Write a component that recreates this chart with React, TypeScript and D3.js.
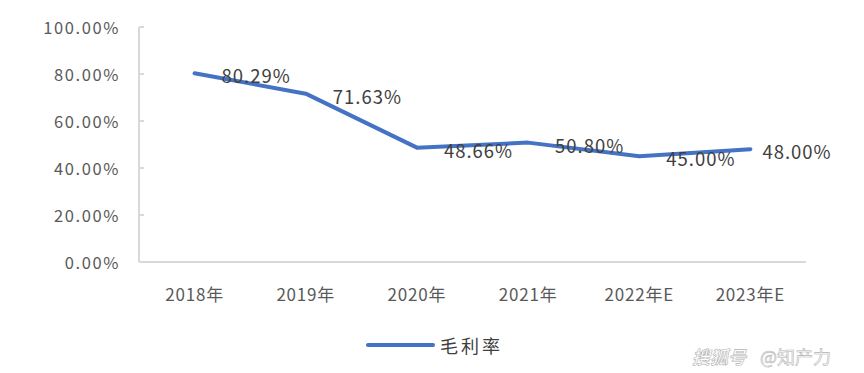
import { useEffect, useRef } from "react";
import * as d3 from "d3";

const years = ["2018年", "2019年", "2020年", "2021年", "2022年E", "2023年E"];
const grossMargin = [80.29, 71.63, 48.66, 50.8, 45.0, 48.0];
const yTicks = [0, 20, 40, 60, 80, 100];
const seriesName = "毛利率";

const WIDTH = 864;
const HEIGHT = 373;

export default function App() {
  const svgRef = useRef<SVGSVGElement | null>(null);

  useEffect(() => {
    if (!svgRef.current) return;
    const svg = d3.select(svgRef.current);
    svg.selectAll("*").remove();

    const left = 139;
    const right = 806;
    const top = 27;
    const bottom = 262;

    const x = d3.scaleBand<string>().domain(years).range([left, right]);
    const y = d3.scaleLinear().domain([0, 100]).range([bottom, top]);
    const cx = (d: string) => (x(d) ?? 0) + x.bandwidth() / 2;

    const axisColor = "#d9d9d9";

    // y axis line + inward ticks
    svg
      .append("line")
      .attr("x1", left)
      .attr("x2", left)
      .attr("y1", top)
      .attr("y2", bottom)
      .attr("stroke", axisColor)
      .attr("stroke-width", 2);

    svg
      .append("g")
      .selectAll("line")
      .data(yTicks)
      .join("line")
      .attr("x1", left)
      .attr("x2", left + 5)
      .attr("y1", (d) => y(d))
      .attr("y2", (d) => y(d))
      .attr("stroke", axisColor)
      .attr("stroke-width", 2);

    // x axis line
    svg
      .append("line")
      .attr("x1", left)
      .attr("x2", right)
      .attr("y1", bottom)
      .attr("y2", bottom)
      .attr("stroke", axisColor)
      .attr("stroke-width", 2);

    // y tick labels
    svg
      .append("g")
      .selectAll("text")
      .data(yTicks)
      .join("text")
      .attr("x", 120)
      .attr("y", (d) => y(d))
      .attr("text-anchor", "end")
      .attr("dominant-baseline", "central")
      .attr("font-family", "'Noto Sans CJK SC', 'Noto Sans', sans-serif")
      .attr("font-size", 16.5)
      .attr("letter-spacing", 1.6)
      .attr("fill", "#595959")
      .text((d) => `${d.toFixed(2)}%`);

    // x tick labels
    svg
      .append("g")
      .selectAll("text")
      .data(years)
      .join("text")
      .attr("x", (d) => cx(d))
      .attr("y", 293)
      .attr("text-anchor", "middle")
      .attr("dominant-baseline", "central")
      .attr("font-family", "'Noto Sans CJK SC', sans-serif")
      .attr("font-size", 17)
      .attr("letter-spacing", 0.8)
      .attr("fill", "#595959")
      .text((d) => d);

    const line = d3
      .line<number>()
      .x((_, i) => cx(years[i]))
      .y((d) => y(d));

    svg
      .append("path")
      .datum(grossMargin)
      .attr("d", line)
      .attr("fill", "none")
      .attr("stroke", "#4472c4")
      .attr("stroke-width", 4)
      .attr("stroke-linejoin", "round")
      .attr("stroke-linecap", "round");

    // data labels, right of each point
    svg
      .append("g")
      .selectAll("text")
      .data(grossMargin)
      .join("text")
      .attr("x", (_, i) => cx(years[i]) + (i === grossMargin.length - 1 ? 12 : 27))
      .attr("y", (d) => y(d) + 2)
      .attr("dominant-baseline", "central")
      .attr("font-family", "'Noto Sans CJK SC', 'Noto Sans', sans-serif")
      .attr("font-size", 18.5)
      .attr("letter-spacing", 1)
      .attr("fill", "#404040")
      .text((d) => `${d.toFixed(2)}%`);

    // legend
    const legend = svg.append("g").attr("transform", "translate(368, 345)");
    legend
      .append("line")
      .attr("x1", 0)
      .attr("x2", 65)
      .attr("stroke", "#4472c4")
      .attr("stroke-width", 4)
      .attr("stroke-linecap", "round");
    legend
      .append("text")
      .attr("x", 72)
      .attr("dominant-baseline", "central")
      .attr("font-family", "'Noto Sans CJK SC', sans-serif")
      .attr("font-size", 18)
      .attr("letter-spacing", 3)
      .attr("fill", "#404040")
      .text(seriesName);

    // watermark
    const mark = svg.append("g").attr("transform", "translate(692, 356)");
    mark
      .append("text")
      .attr("dominant-baseline", "central")
      .attr("font-family", "'Noto Sans CJK SC', sans-serif")
      .attr("font-size", 18)
      .attr("font-style", "italic")
      .attr("font-weight", 700)
      .attr("fill", "#ffffff")
      .attr("stroke", "#b4b4b4")
      .attr("stroke-width", 0.6)
      .text("搜狐号");
    mark
      .append("text")
      .attr("x", 68)
      .attr("dominant-baseline", "central")
      .attr("font-family", "'Noto Sans CJK SC', sans-serif")
      .attr("font-size", 18)
      .attr("fill", "#ffffff")
      .attr("stroke", "#b4b4b4")
      .attr("stroke-width", 0.6)
      .text("@知产力");
  }, []);

  return (
    <svg
      ref={svgRef}
      width={WIDTH}
      height={HEIGHT}
      style={{ position: "absolute", left: 0, top: 0, background: "#ffffff" }}
    />
  );
}
